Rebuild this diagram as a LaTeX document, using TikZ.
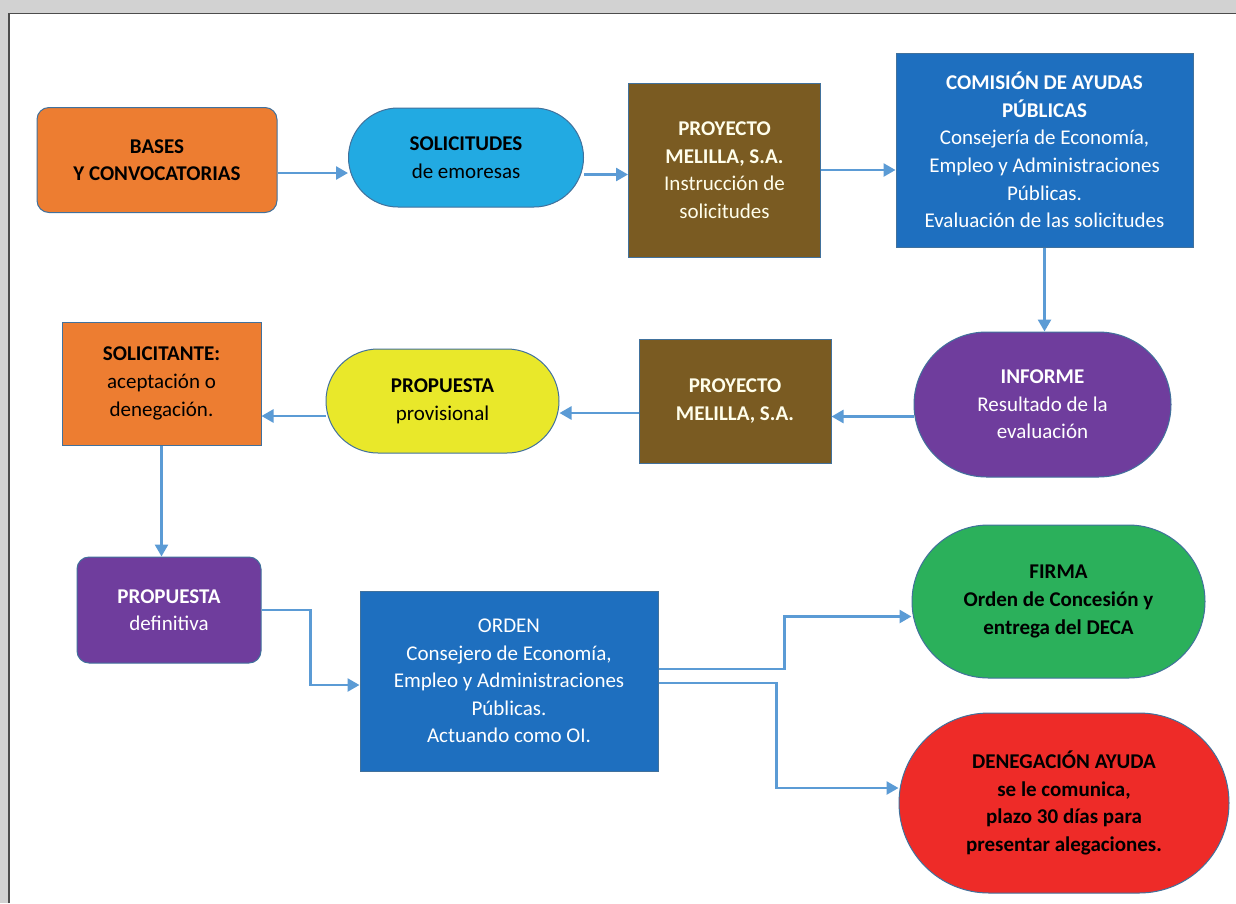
\documentclass[tikz,border=0pt]{standalone}
\usepackage{fontspec}
\setmainfont{Carlito}
\usepackage{xcolor}
\usetikzlibrary{positioning,arrows.meta,shapes.misc,calc}

\definecolor{cOrange}{HTML}{ED7D31}
\definecolor{cSky}{HTML}{22AAE2}
\definecolor{cBrown}{HTML}{7A5B22}
\definecolor{cBlue}{HTML}{1E6FBF}
\definecolor{cPurple}{HTML}{6F3D9D}
\definecolor{cYellow}{HTML}{E9E82A}
\definecolor{cGreen}{HTML}{2BB05B}
\definecolor{cRed}{HTML}{EE2B28}
\definecolor{edgeblue}{HTML}{41719C}
\definecolor{linkblue}{HTML}{5B9BD5}

\begin{document}
\begin{tikzpicture}[x=1pt,y=-1pt,
    box/.style={draw=edgeblue,line width=1pt,align=center,inner sep=2pt,font=\fontsize{21}{27.6}\selectfont},
    pill/.style={box,rounded rectangle},
    link/.style={draw=linkblue,line width=2.6pt,-{Triangle[length=12pt,width=13pt]}}]
    \useasboundingbox[fill=white] (0,0) rectangle (1236,903);
    % page frame
    \fill[gray!35] (0,0) rectangle (1236,13);
    \fill[gray!35] (0,0) rectangle (8,903);
    \draw[gray!60!black,line width=1.5pt] (9,903) -- (9,13.5) -- (1236,13.5);

    % first row
    \node[box,fill=cOrange,rounded corners=12pt,minimum width=240pt,minimum height=105pt] (bases) at (157,160) {\textbf{BASES}\\\textbf{Y CONVOCATORIAS}};
    \node[pill,fill=cSky,minimum width=239pt,minimum height=99pt] (solic) at (466,157.5) {\textbf{SOLICITUDES}\\de emoresas};
    \node[box,fill=cBrown,text=white!92!yellow,minimum width=192pt,minimum height=174pt] (proy1) at (724.5,170) {\textbf{PROYECTO}\\\textbf{MELILLA, S.A.}\\Instrucción de\\solicitudes};
    \node[box,fill=cBlue,text=white,minimum width=297pt,minimum height=194pt] (comision) at (1044.5,150) {\textbf{COMISIÓN DE AYUDAS}\\\textbf{PÚBLICAS}\\Consejería de Economía,\\Empleo y Administraciones\\Públicas.\\Evaluación de las solicitudes};

    % second row
    \node[pill,fill=cPurple,text=white,minimum width=261pt,minimum height=145pt] (informe) at (1042.5,404.5) {\textbf{INFORME}\\Resultado de la\\evaluación};
    \node[box,fill=cBrown,text=white!92!yellow,minimum width=192pt,minimum height=124pt] (proy2) at (735,401) {\textbf{PROYECTO}\\\textbf{MELILLA, S.A.}};
    \node[pill,fill=cYellow,minimum width=237pt,minimum height=104pt] (propprov) at (442.5,401) {\textbf{PROPUESTA}\\provisional};
    \node[box,fill=cOrange,minimum width=199pt,minimum height=123pt] (solicitante) at (161.5,383.5) {\textbf{SOLICITANTE:}\\aceptación o\\denegación.};

    % third row
    \node[box,fill=cPurple,text=white,rounded corners=12pt,minimum width=184pt,minimum height=106pt] (propdef) at (169,610) {\textbf{PROPUESTA}\\definitiva};
    \node[box,fill=cBlue,text=white,minimum width=298pt,minimum height=180pt] (orden) at (509,681) {ORDEN\\Consejero de Economía,\\Empleo y Administraciones\\Públicas.\\Actuando como OI.};
    \node[pill,fill=cGreen,font=\fontsize{21}{27.6}\selectfont\bfseries,minimum width=297pt,minimum height=153pt] (firma) at (1058.5,601.5) {FIRMA\\Orden de Concesión y\\entrega del DECA};
    \node[pill,fill=cRed,font=\fontsize{21}{27.6}\selectfont\bfseries,minimum width=334pt,minimum height=180pt] (deneg) at (1064,803) {DENEGACIÓN AYUDA\\se le comunica,\\plazo 30 días para\\presentar alegaciones.};

    % connectors
    \draw[link] ([yshift=-13pt]bases.east) -- ([yshift=-13pt]bases.east -| solic.west);
    \draw[link] ([yshift=-17pt]solic.east) -- ([yshift=-17pt]solic.east -| proy1.west);
    \draw[link] (proy1.east) -- (proy1.east -| comision.west);
    \draw[link] (comision.south) -- (comision.south |- informe.north);
    \draw[link] ([yshift=-12pt]informe.west) -- ([yshift=-12pt]informe.west -| proy2.east);
    \draw[link] ([yshift=-12pt]proy2.west) -- ([yshift=-12pt]proy2.west -| propprov.east);
    \draw[link] ([yshift=-15pt]propprov.west) -- ([yshift=-15pt]propprov.west -| solicitante.east);
    \draw[link] (solicitante.south) -- (solicitante.south |- propdef.north);
    \draw[link] (propdef.east) -- ([xshift=49pt]propdef.east) |- ([yshift=-4pt]orden.west);
    \draw[link] ([yshift=12pt]orden.east) -- ++(126,0) |- ([yshift=-15pt]firma.west);
    \draw[link] ([yshift=-2pt]orden.east) -- ++(118,0) |- ([yshift=15pt]deneg.west);
\end{tikzpicture}
\end{document}
